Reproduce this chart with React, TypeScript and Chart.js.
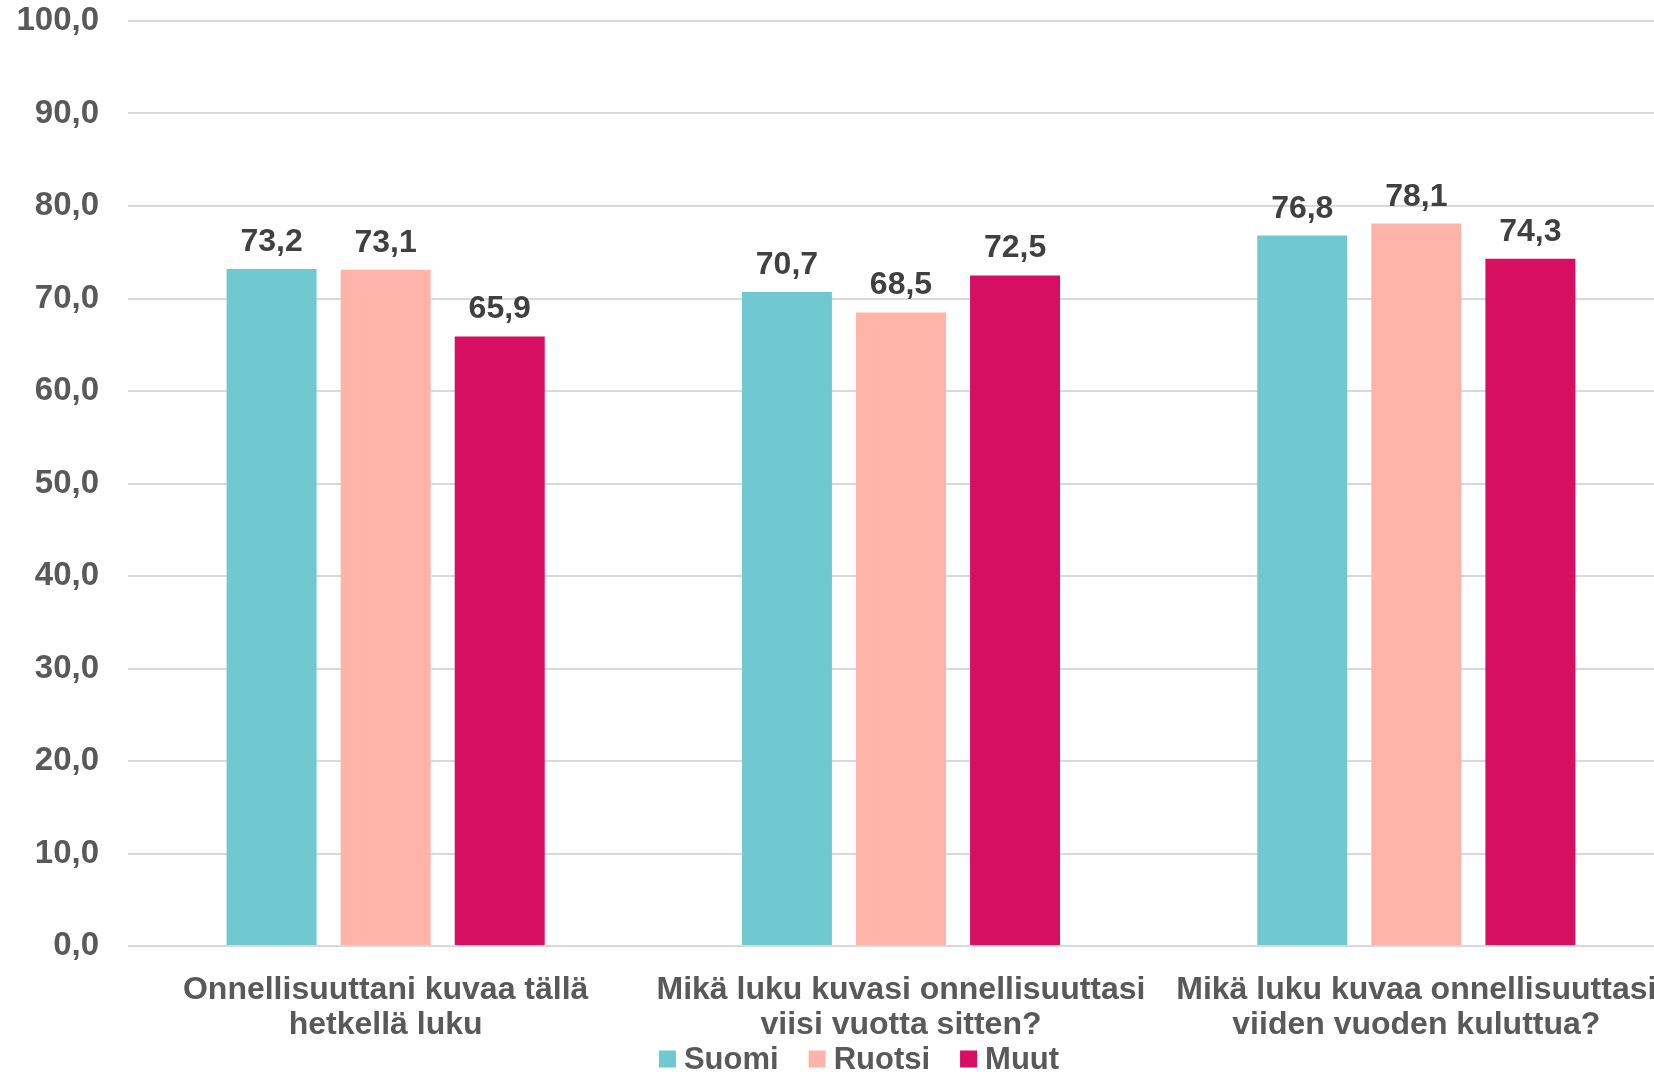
import React, { useEffect, useRef } from "react";
import { Chart, registerables } from "chart.js";

Chart.register(...registerables);

const categories: string[][] = [
  ["Onnellisuuttani kuvaa tällä", "hetkellä luku"],
  ["Mikä luku kuvasi onnellisuuttasi", "viisi vuotta sitten?"],
  ["Mikä luku kuvaa onnellisuuttasi", "viiden vuoden kuluttua?"],
];
const seriesNames = ["Suomi", "Ruotsi", "Muut"];
const suomi = [73.2, 70.7, 76.8];
const ruotsi = [73.1, 68.5, 78.1];
const muut = [65.9, 72.5, 74.3];
const seriesColors = ["#70C8D1", "#FFB4A9", "#D60F62"];
const yMin = 0;
const yMax = 100;
const yStep = 10;

const FONT = "'Liberation Sans', Arial, sans-serif";
const fmt = (v: number) => v.toFixed(1).replace(".", ",");

const dataLabelPlugin = {
  id: "dataLabels",
  afterDatasetsDraw(chart: any) {
    const ctx = chart.ctx;
    ctx.save();
    ctx.font = `bold 32px ${FONT}`;
    ctx.fillStyle = "#404040";
    ctx.textAlign = "center";
    ctx.textBaseline = "alphabetic";
    chart.data.datasets.forEach((ds: any, i: number) => {
      const meta = chart.getDatasetMeta(i);
      meta.data.forEach((bar: any, j: number) => {
        ctx.fillText(fmt(ds.data[j]), bar.x, bar.y - 18);
      });
    });
    ctx.restore();
  },
};

const legendPlugin = {
  id: "customLegend",
  afterDraw(chart: any) {
    const ctx = chart.ctx;
    ctx.save();
    ctx.font = `bold 31px ${FONT}`;
    const box = 17;
    const gapText = 8;
    const gapItem = 30;
    const items = chart.data.datasets.map((ds: any) => ({
      label: ds.label,
      color: ds.backgroundColor,
      w: ctx.measureText(ds.label).width,
    }));
    const total =
      items.reduce((s: number, it: any) => s + box + gapText + it.w, 0) +
      gapItem * (items.length - 1);
    const cy = 1059;
    let x = 859 - total / 2;
    items.forEach((it: any) => {
      ctx.fillStyle = it.color;
      ctx.fillRect(x, cy - box / 2, box, box);
      x += box + gapText;
      ctx.fillStyle = "#595959";
      ctx.textAlign = "left";
      ctx.textBaseline = "middle";
      ctx.fillText(it.label, x, cy + 1);
      x += it.w + gapItem;
    });
    ctx.restore();
  },
};

export default function App() {
  const ref = useRef<HTMLCanvasElement | null>(null);

  useEffect(() => {
    document.body.style.margin = "0";
    const canvas = ref.current;
    if (!canvas) return;
    const values = [suomi, ruotsi, muut];
    const chart = new Chart(canvas, {
      type: "bar",
      data: {
        labels: categories,
        datasets: seriesNames.map((name, i) => ({
          label: name,
          data: values[i],
          backgroundColor: seriesColors[i],
          borderWidth: 0,
          categoryPercentage: 0.664,
          barPercentage: 0.789,
        })),
      },
      options: {
        animation: false,
        responsive: false,
        maintainAspectRatio: false,
        layout: { padding: { top: 21, right: 6, bottom: 31, left: 0 } },
        plugins: {
          legend: { display: false },
          tooltip: { enabled: false },
        },
        scales: {
          x: {
            grid: { display: false, drawTicks: false },
            border: { display: false },
            ticks: {
              maxRotation: 0,
              minRotation: 0,
              autoSkip: false,
              padding: 27,
              color: "#595959",
              font: { family: FONT, size: 32, weight: "bold", lineHeight: 1.094 },
            },
            afterFit: (s: any) => {
              s.height = 95;
              s.paddingLeft = 0;
              s.paddingRight = 0;
            },
          },
          y: {
            min: yMin,
            max: yMax,
            grid: { color: "#D9D9D9", lineWidth: 2, drawTicks: false },
            border: { display: false },
            ticks: {
              stepSize: yStep,
              padding: 29,
              color: "#595959",
              font: { family: FONT, size: 33, weight: "bold" },
              callback: (v: any) => fmt(Number(v)),
            },
            afterFit: (s: any) => {
              s.width = 128;
              s.paddingTop = 0;
              s.paddingBottom = 0;
            },
          },
        },
      },
      plugins: [dataLabelPlugin, legendPlugin],
    });
    return () => chart.destroy();
  }, []);

  return (
    <div
      style={{
        position: "absolute",
        left: 0,
        top: 0,
        width: 1654,
        height: 1072,
        overflow: "hidden",
        background: "#fff",
      }}
    >
      <canvas ref={ref} width={1680} height={1072} style={{ width: 1680, height: 1072, display: "block" }} />
    </div>
  );
}
